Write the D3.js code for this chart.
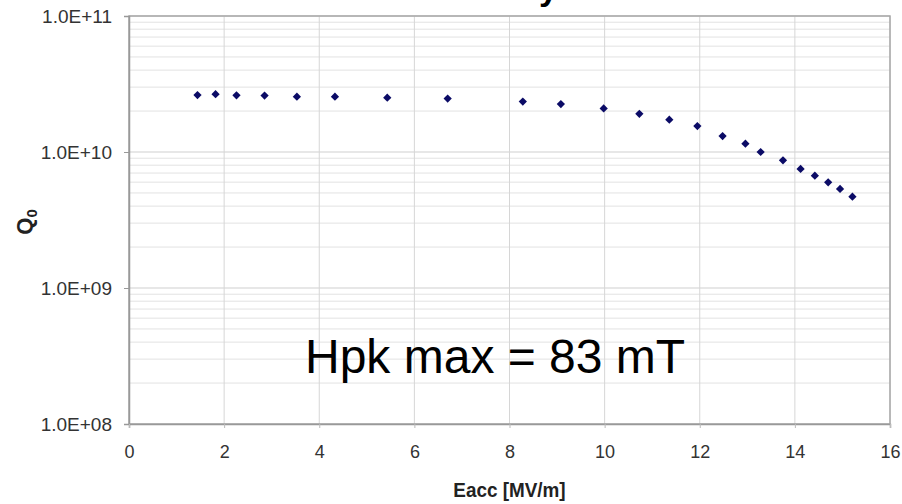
<!DOCTYPE html>
<html>
<head>
<meta charset="utf-8">
<script src="https://cdn.jsdelivr.net/npm/d3@7"></script>
<style>
  html, body { margin: 0; padding: 0; background: #fff; }
  svg { display: block; }
  text { font-family: "Liberation Sans", Arial, sans-serif; }
</style>
</head>
<body>
<svg id="chart" width="902" height="504"></svg>
<script>
// ---- data ----
const eacc = [1.44, 1.82, 2.26, 2.85, 3.53, 4.33, 5.43, 6.70, 8.28, 9.08, 9.98, 10.73,
              11.36, 11.95, 12.48, 12.96, 13.28, 13.75, 14.12, 14.42, 14.70, 14.95, 15.21];
const q0 = [2.62e10, 2.66e10, 2.61e10, 2.60e10, 2.55e10, 2.55e10, 2.51e10, 2.47e10, 2.35e10,
            2.25e10, 2.09e10, 1.91e10, 1.73e10, 1.55e10, 1.31e10, 1.15e10, 1.00e10, 8.69e9,
            7.50e9, 6.69e9, 5.99e9, 5.35e9, 4.69e9];
const xTicks = [0, 2, 4, 6, 8, 10, 12, 14, 16];
const yTicks = [1e8, 1e9, 1e10, 1e11];
const yTickLabels = ["1.0E+08", "1.0E+09", "1.0E+10", "1.0E+11"];
const xTitle = "Eacc [MV/m]";
const yTitle = "Q";
const ySub = "0";
const annotation = "Hpk max = 83 mT";
const titleFragment = "y";

(function () {
// ---- layout ----
const svg = d3.select("#chart");
const pL = 129, pR = 890, pT = 16, pB = 424;

const x = d3.scaleLinear().domain([0, 16]).range([pL, pR]);
const y = d3.scaleLog().domain([1e8, 1e11]).range([pB, pT]);

// minor horizontal grid (2..9 in each decade)
const minor = [];
for (let d = 8; d < 11; d++) for (let k = 2; k <= 9; k++) minor.push(k * Math.pow(10, d));

svg.append("g").selectAll("line").data(minor).join("line")
  .attr("x1", pL).attr("x2", pR)
  .attr("y1", d => y(d)).attr("y2", d => y(d))
  .attr("stroke", "#e2e2e2").attr("stroke-width", 1);

svg.append("g").selectAll("line").data(yTicks).join("line")
  .attr("x1", pL).attr("x2", pR)
  .attr("y1", d => y(d)).attr("y2", d => y(d))
  .attr("stroke", "#cfcfcf").attr("stroke-width", 1);

svg.append("g").selectAll("line").data(xTicks).join("line")
  .attr("x1", d => x(d)).attr("x2", d => x(d))
  .attr("y1", pT).attr("y2", pB)
  .attr("stroke", "#d6d6d6").attr("stroke-width", 1);

// plot border
svg.append("rect")
  .attr("x", pL).attr("y", pT)
  .attr("width", pR - pL).attr("height", pB - pT)
  .attr("fill", "none").attr("stroke", "#a8a8a8").attr("stroke-width", 1.5);

// y axis
const yAxis = d3.axisLeft(y).tickValues(yTicks)
  .tickFormat((d, i) => yTickLabels[i]).tickSize(5).tickPadding(12);
const gy = svg.append("g").attr("transform", `translate(${pL},0)`).call(yAxis);
gy.select(".domain").attr("stroke", "#999").attr("stroke-width", 1.5);
gy.selectAll(".tick line").attr("stroke", "#999");
gy.selectAll(".tick text").attr("font-size", 19).attr("fill", "#333")
  .attr("font-family", "'Liberation Sans', Arial, sans-serif");

// x axis
const xAxis = d3.axisBottom(x).tickValues(xTicks).tickSize(4).tickPadding(17);
const gx = svg.append("g").attr("transform", `translate(0,${pB})`).call(xAxis);
gx.select(".domain").attr("stroke", "#999").attr("stroke-width", 1.5);
gx.selectAll(".tick line").attr("stroke", "#bbb");
gx.selectAll(".tick text").attr("font-size", 18).attr("fill", "#333")
  .attr("font-family", "'Liberation Sans', Arial, sans-serif");

// axis titles
const cx = (pL + pR) / 2;
svg.append("text")
  .attr("x", 0).attr("y", 0)
  .attr("text-anchor", "middle")
  .attr("font-size", 21).attr("font-weight", "bold").attr("fill", "#222")
  .attr("transform", `translate(${cx},497) scale(0.9,1)`)
  .text(xTitle);

const yt = svg.append("text")
  .attr("transform", "translate(32,222) rotate(-90)")
  .attr("text-anchor", "middle")
  .attr("font-size", 22).attr("font-weight", "bold").attr("fill", "#222");
yt.append("tspan").text(yTitle);
yt.append("tspan").attr("font-size", 15).attr("dy", 5).text(ySub);

// data points (navy diamonds)
svg.append("g").selectAll("path").data(eacc).join("path")
  .attr("d", d3.symbol().type(d3.symbolSquare).size(34))
  .attr("transform", (d, i) => `translate(${x(d)},${y(q0[i])}) rotate(45)`)
  .attr("fill", "#0b0b66");

// annotation
svg.append("text")
  .attr("x", 305).attr("y", 373)
  .attr("font-size", 48).attr("fill", "#000")
  .text(annotation);

// title fragment: in the reference only its descender shows at the top edge
svg.append("text")
  .attr("x", 539).attr("y", 0)
  .attr("font-size", 34).attr("font-weight", "bold").attr("fill", "#000")
  .text(titleFragment);
})();
</script>
</body>
</html>
